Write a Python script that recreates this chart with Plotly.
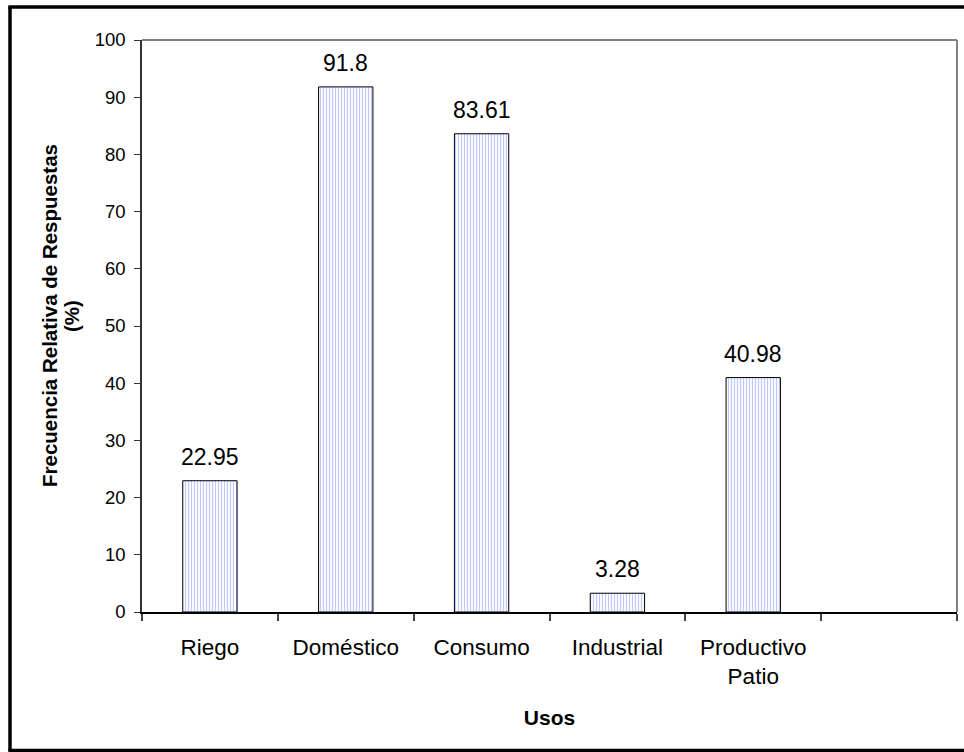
import plotly.graph_objects as go

categories = ["Riego", "Doméstico", "Consumo", "Industrial", "Productivo<br>Patio"]
values = [22.95, 91.8, 83.61, 3.28, 40.98]
value_labels = ["22.95", "91.8", "83.61", "3.28", "40.98"]
y_ticks = list(range(0, 101, 10))
y_title_lines = ["<b>Frecuencia Relativa de Respuestas</b>", "<b>(%)</b>"]
x_title = "<b>Usos</b>"
n_slots = 6  # Excel-style axis with one extra empty category slot

FONT = "Liberation Sans, Arial, sans-serif"

L, R, T, B = 142, 7, 40, 140
W, H = 964, 752
pw, ph = W - L - R, H - T - B

def px_x(p):
    return (p - L) / pw

def px_y(p):
    return (H - B - p) / ph

xs = list(range(len(categories)))

fig = go.Figure()
fig.add_trace(go.Bar(
    x=xs, y=values, width=0.4,
    marker=dict(color="white", line=dict(color="black", width=1),
                pattern=dict(shape="|", fgcolor="#7f93ff", bgcolor="white", size=3, solidity=0.4)),
    hoverinfo="skip",
))
for xv, yv, lab in zip(xs, values, value_labels):
    fig.add_annotation(x=xv, y=yv, text=lab, showarrow=False, yanchor="bottom",
                       yshift=9, font=dict(family=FONT, size=23, color="black"))

# y-axis title as two rotated lines (tighter line spacing like the original)
for cx, line in zip([49, 71], y_title_lines):
    fig.add_annotation(xref="paper", yref="paper", x=px_x(cx), y=px_y(316),
                       text=line, textangle=-90, showarrow=False,
                       xanchor="center", yanchor="middle",
                       font=dict(family=FONT, size=20.5, color="black"))

border = dict(color="black", width=3.5)
fig.update_layout(
    width=W, height=H,
    margin=dict(l=L, r=R, t=T, b=B, pad=0),
    paper_bgcolor="white", plot_bgcolor="white",
    showlegend=False,
    font=dict(family=FONT, color="black"),
    xaxis=dict(
        range=[-0.5, n_slots - 0.5], tickvals=xs, ticktext=categories,
        ticks="", showgrid=False, zeroline=False,
        showline=True, linecolor="black", linewidth=1.5,
        tickfont=dict(family=FONT, size=22.5, color="black"),
        ticklabelstandoff=14,
        minor=dict(tickvals=[i - 0.5 for i in range(n_slots + 1)], ticks="outside",
                   ticklen=7, tickcolor="#444", tickwidth=1.5, showgrid=False),
        title=dict(text=x_title, font=dict(family=FONT, size=21), standoff=22),
        fixedrange=True,
    ),
    yaxis=dict(
        range=[0, 100], tickvals=y_ticks, ticks="outside", ticklen=6, tickcolor="#333",
        showgrid=False, zeroline=False,
        showline=True, linecolor="#333", linewidth=1.5,
        tickfont=dict(family=FONT, size=18.5, color="black"),
        ticklabelstandoff=5,
        fixedrange=True,
    ),
    shapes=[
        # plot area grey border (top and right)
        dict(type="line", xref="paper", yref="paper", x0=0, x1=1, y0=1, y1=1,
             line=dict(color="#808080", width=2)),
        dict(type="line", xref="paper", yref="paper", x0=1, x1=1, y0=0, y1=1,
             line=dict(color="#808080", width=2)),
        # outer chart border: left, top, bottom (right side lies outside the picture)
        dict(type="line", xref="paper", yref="paper", x0=px_x(10), x1=px_x(10),
             y0=px_y(750.5), y1=px_y(7), line=border, layer="above"),
        dict(type="line", xref="paper", yref="paper", x0=px_x(8.3), x1=px_x(W),
             y0=px_y(7), y1=px_y(7), line=border, layer="above"),
        dict(type="line", xref="paper", yref="paper", x0=px_x(8.3), x1=px_x(W),
             y0=px_y(750.5), y1=px_y(750.5), line=border, layer="above"),
    ],
)

fig.write_html("out.html", config={"displayModeBar": False},
               post_script="document.body.style.margin='0';")
